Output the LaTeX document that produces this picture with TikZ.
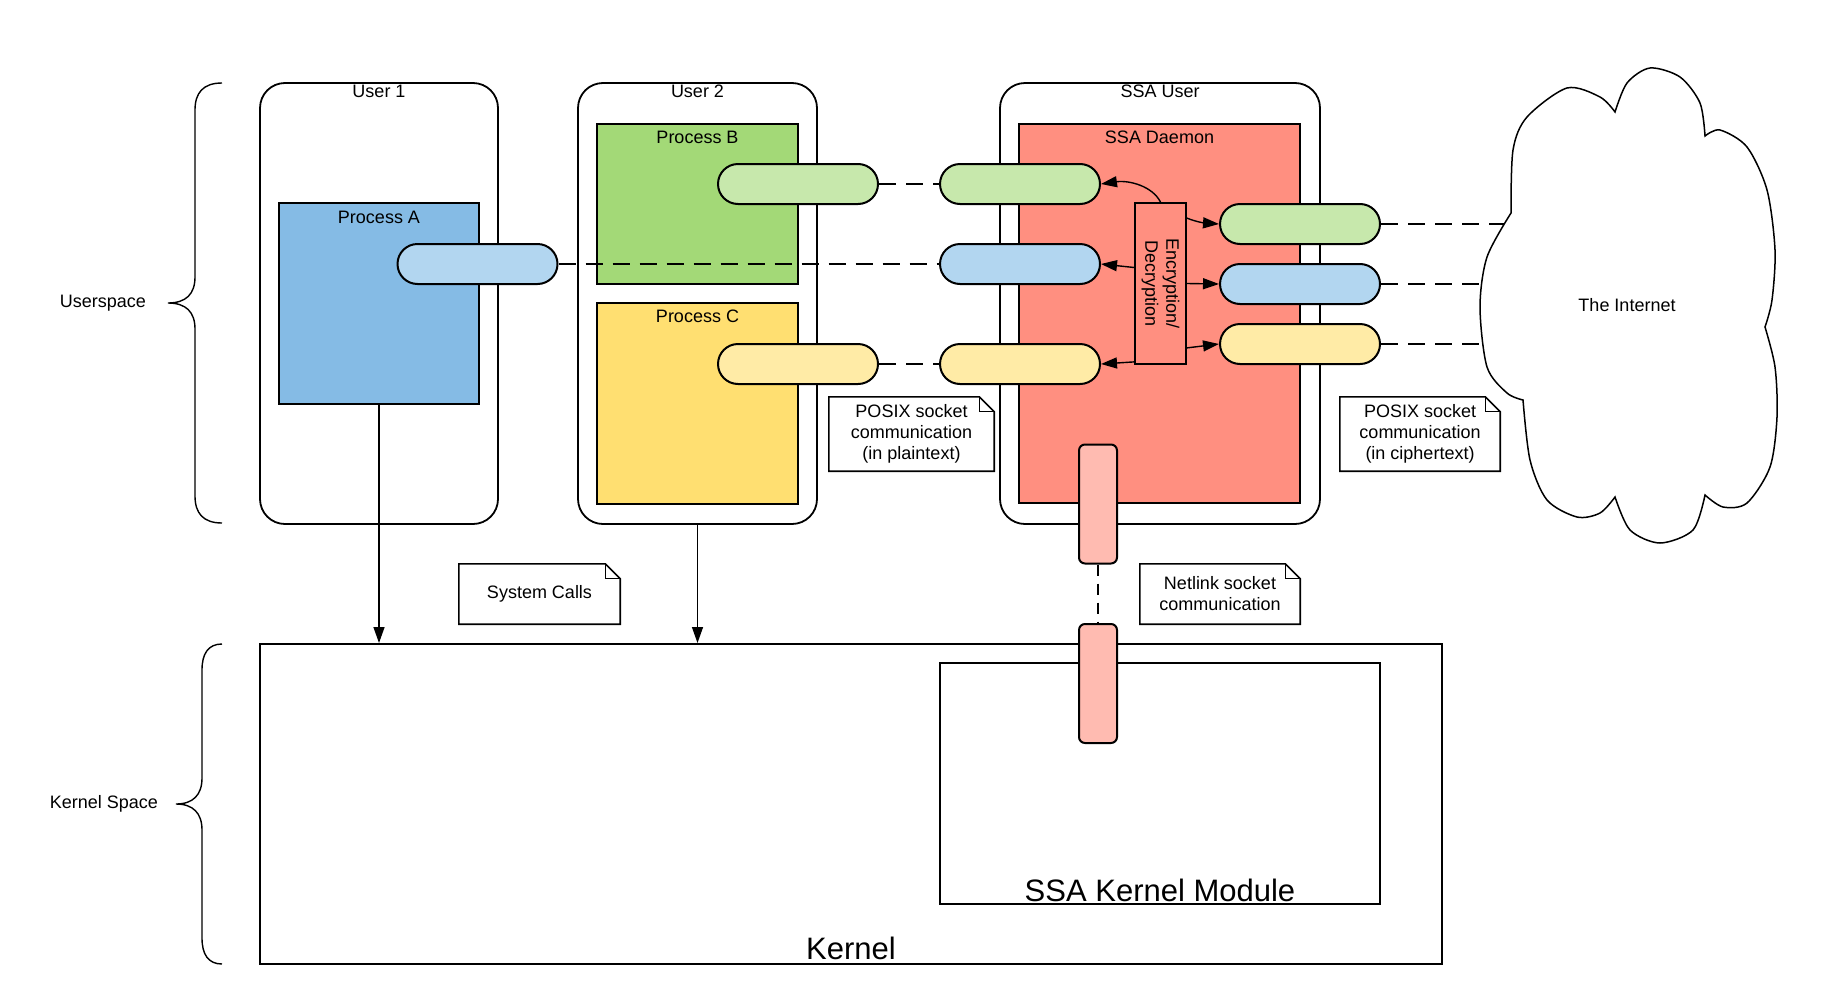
\documentclass[tikz,border=0pt]{standalone}
\usepackage{fontspec}
\setmainfont{Liberation Sans}
\usepackage{tikz}
\usetikzlibrary{arrows.meta,shapes.misc,positioning}
\usepackage{xcolor}
\definecolor{procblue}{HTML}{85BBE5}
\definecolor{procgreen}{HTML}{A3D977}
\definecolor{procyellow}{HTML}{FFDF71}
\definecolor{daemonred}{HTML}{FF8F80}
\definecolor{sockgreen}{HTML}{C7E8AC}
\definecolor{sockblue}{HTML}{B2D6F0}
\definecolor{sockyellow}{HTML}{FFEBA6}
\definecolor{nlpink}{HTML}{FFBBB1}
\newcommand{\lblfont}{\fontsize{18}{21}\selectfont}
\newcommand{\bigfont}{\fontsize{31}{36}\selectfont}
\tikzstyle{userbox} = [rectangle, rounded corners=25pt, draw, line width=1.8pt, fill=white, minimum height=441pt]
\tikzstyle{procbox} = [rectangle, draw, line width=2pt]
\tikzstyle{socket} = [rounded rectangle, draw, line width=2pt, minimum width=160pt, minimum height=40pt, inner sep=0pt]
\tikzstyle{nlsocket} = [rectangle, rounded corners=6pt, draw, line width=2pt, fill=nlpink, minimum width=38pt, minimum height=119pt]
\tikzstyle{notebox} = [rectangle, inner sep=0pt, align=center, font=\lblfont]
\tikzstyle{lbl} = [font=\lblfont, inner sep=0pt]
\tikzstyle{arrow} = [line width=1.4pt, -{Triangle[length=16pt,width=11pt]}]
\tikzstyle{link} = [line width=1.6pt, dash pattern=on 17pt off 10pt]

\begin{document}
\begin{tikzpicture}[x=1pt,y=-1pt]
\useasboundingbox (0,0) rectangle (1835,1004);

% Users
\node[userbox, minimum width=238pt] (user1) at (379,303.5) {};
\node[userbox, minimum width=239pt] (user2) at (697.5,303.5) {};
\node[userbox, minimum width=320pt] (ssauser) at (1160,303.5) {};
\node[lbl] at ([yshift=-9pt]user1.north) {User 1};
\node[lbl] at ([yshift=-9pt]user2.north) {User 2};
\node[lbl] at ([yshift=-9pt]ssauser.north) {SSA User};

% Processes
\node[procbox, fill=procblue, minimum width=200pt, minimum height=201pt] (procA) at (379,303.5) {};
\node[procbox, fill=procgreen, minimum width=201pt, minimum height=160pt] (procB) at (697.5,204) {};
\node[procbox, fill=procyellow, minimum width=201pt, minimum height=201pt] (procC) at (697.5,403.5) {};
\node[procbox, fill=daemonred, minimum width=281pt, minimum height=379pt] (daemon) at (1159.5,313.5) {};
\node[lbl] at ([yshift=-15pt]procA.north) {Process A};
\node[lbl] at ([yshift=-14.5pt]procB.north) {Process B};
\node[lbl] at ([yshift=-14.5pt]procC.north) {Process C};
\node[lbl] at ([yshift=-14.5pt]daemon.north) {SSA Daemon};

% Encryption
\node[procbox, fill=daemonred, line width=1.8pt, minimum width=51pt, minimum height=161pt] (enc) at (1160.5,283.5) {};
\node[lbl, rotate=-90, align=center] at (enc.center) {Encryption/\\Decryption};

% Sockets
\node[socket, fill=sockblue] (sockA) at (477.5,264) {};
\node[socket, fill=sockgreen] (sockB) at (798,184) {};
\node[socket, fill=sockyellow] (sockC) at (798,364) {};
\foreach \name/\col/\y in {B/sockgreen/184, A/sockblue/264, C/sockyellow/364} {
    \node[socket, fill=\col] (p\name) at (1020,\y) {};
}
\foreach \name/\col/\y in {B/sockgreen/224, A/sockblue/284, C/sockyellow/344} {
    \node[socket, fill=\col] (c\name) at (1300,\y) {};
}

% Plaintext links
\draw[link] (sockB.east) -- (pB.west);
\draw[link] (sockA.east) -- (pA.west);
\draw[link] (sockC.east) -- (pC.west);

% Encryption arrows
\draw[arrow] (enc.north) .. controls +(-8,-16) and +(28,-4) .. (pB.east);
\draw[arrow] ([yshift=-16pt]enc.north east) .. controls +(10,4) and +(-14,-1) .. (cB.west);
\draw[arrow] ([yshift=16pt]enc.west) -- (pA.east);
\draw[arrow] (enc.east) -- (cA.west);
\draw[arrow] ([yshift=3pt]enc.south west) -- (pC.east);
\draw[arrow] ([yshift=17pt]enc.south east) -- (cC.west);

% Ciphertext links
\coordinate (netB) at (1525,224);
\coordinate (netA) at (1525,284);
\coordinate (netC) at (1525,344);
\draw[link] (cB.east) -- (netB);
\draw[link] (cA.east) -- (netA);
\draw[link] (cC.east) -- (netC);

% Internet
\draw[line width=1.5pt, fill=white]
    plot[smooth] coordinates {(1511,213) (1513,150) (1527,117) (1567,88) (1600,97) (1615,112)}
 -- plot[smooth] coordinates {(1615,112) (1627,83) (1650,68) (1680,77) (1700,103) (1705,136)}
 -- plot[smooth] coordinates {(1705,136) (1720,130) (1747,147) (1767,190) (1775,250) (1772,300) (1765,327)}
 -- plot[smooth] coordinates {(1765,327) (1775,367) (1777,417) (1770,467) (1747,503) (1723,507) (1705,495)}
 -- plot[smooth] coordinates {(1705,495) (1693,530) (1660,543) (1630,530) (1615,497)}
 -- plot[smooth] coordinates {(1615,497) (1600,513) (1577,517) (1547,500) (1530,460) (1523,400)}
 -- plot[smooth] coordinates {(1523,400) (1507,393) (1487,367) (1480,307) (1487,257) (1511,213)}
 -- cycle;
\node[lbl] (inet) at (1627,305) {The Internet};

% Notes
\node[notebox, minimum width=165pt, minimum height=74pt] (plainnote) at (911.5,434) {POSIX socket\\communication\\(in plaintext)};
\node[notebox, minimum width=160pt, minimum height=74pt] (ciphernote) at (1420,434) {POSIX socket\\communication\\(in ciphertext)};
\node[notebox, minimum width=161pt, minimum height=60pt] (callnote) at (539.5,594) {System Calls};
\node[notebox, minimum width=160pt, minimum height=60pt] (nlnote) at (1220,594) {Netlink socket\\communication};
\foreach \n in {plainnote,ciphernote,callnote,nlnote} {
    \draw[line width=1.6pt] (\n.south west) -- (\n.north west) -- ([xshift=-15pt]\n.north east)
        -- ([yshift=-15pt]\n.north east) -- (\n.south east) -- cycle;
    \draw[line width=1.2pt] ([xshift=-15pt]\n.north east) |- ([yshift=-15pt]\n.north east);
}

% Kernel
\node[procbox, minimum width=1182pt, minimum height=320pt] (kernel) at (851,804) {};
\node[procbox, minimum width=440pt, minimum height=241pt] (ssakm) at (1160,783.5) {};
\node[font=\bigfont, inner sep=0pt] at ([yshift=17pt]kernel.south) {Kernel};
\node[font=\bigfont, inner sep=0pt] at ([yshift=15pt]ssakm.south) {SSA Kernel Module};

% Netlink
\node[nlsocket] (nlup) at (1098,504) {};
\node[nlsocket] (nldown) at (1098,683.5) {};
\draw[line width=1.2pt, dash pattern=on 11pt off 8pt] (nlup.south) -- (nldown.north);

% System calls
\draw[arrow] (procA.south) -- (procA.south |- kernel.north);
\draw[arrow] (user2.south) -- (user2.south |- kernel.north);

% Braces
\draw[line width=1.4pt] (222,83) .. controls (203,83) and (195,93) .. (195,110) -- (195,277)
    .. controls (195,294) and (186,303) .. (168,303) .. controls (186,303) and (195,312) .. (195,329)
    -- (195,496) .. controls (195,513) and (203,523) .. (222,523);
\draw[line width=1.4pt] (222,644) .. controls (208,644) and (202,654) .. (202,670) -- (202,778)
    .. controls (202,795) and (193,804) .. (176,804) .. controls (193,804) and (202,813) .. (202,830)
    -- (202,938) .. controls (202,954) and (208,964) .. (222,964);
\node[lbl] (userspace) at (103,303) {Userspace};
\node[lbl] (kernelspace) at (104,804) {Kernel Space};
\end{tikzpicture}
\end{document}
